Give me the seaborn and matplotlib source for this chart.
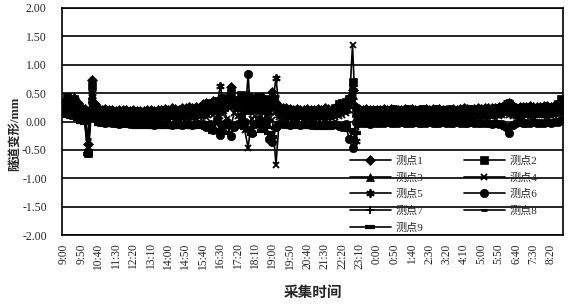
import numpy as np
import pandas as pd
import matplotlib
matplotlib.use("Agg")
import matplotlib.pyplot as plt
import seaborn as sns

# 10-min samples, 9:00 -> 8:50 next day (144 points)
tick_labels = ["9:00", "9:50", "10:40", "11:30", "12:20", "13:10", "14:00", "14:50",
               "15:40", "16:30", "17:20", "18:10", "19:00", "19:50", "20:40", "21:30",
               "22:20", "23:10", "0:00", "0:50", "1:40", "2:30", "3:20", "4:10",
               "5:00", "5:50", "6:40", "7:30", "8:20"]
names = ["测点1", "测点2", "测点3", "测点4", "测点5", "测点6", "测点7", "测点8", "测点9"]

s1 = [0.30, 0.36, 0.28, 0.42, 0.33, 0.26, 0.22, -0.40, 0.73, 0.30,
      0.22, 0.21, 0.22, 0.20, 0.21, 0.19, 0.20, 0.21, 0.20, 0.19,
      0.20, 0.19, 0.18, 0.19, 0.20, 0.21, 0.19, 0.20, 0.21, 0.22,
      0.21, 0.23, 0.22, 0.21, 0.24, 0.23, 0.25, 0.24, 0.26, 0.23,
      0.30, 0.32, 0.26, 0.36, 0.24, 0.40, 0.30, 0.28, 0.60, 0.36,
      0.30, 0.42, 0.28, 0.46, 0.38, 0.26, 0.32, 0.44, 0.36, 0.30,
      0.52, 0.32, 0.26, 0.23, 0.24, 0.22, 0.21, 0.22, 0.21, 0.20,
      0.22, 0.21, 0.20, 0.22, 0.21, 0.23, 0.22, 0.21, 0.24, 0.26,
      0.28, 0.30, 0.42, 0.56, 0.26, 0.22, 0.21, 0.22, 0.21, 0.20,
      0.20, 0.21, 0.22, 0.21, 0.22, 0.21, 0.20, 0.21, 0.22, 0.21,
      0.22, 0.21, 0.20, 0.21, 0.22, 0.21, 0.22, 0.21, 0.22, 0.21,
      0.20, 0.21, 0.22, 0.21, 0.22, 0.23, 0.22, 0.21, 0.22, 0.23,
      0.22, 0.23, 0.24, 0.23, 0.24, 0.25, 0.26, 0.30, 0.33, 0.28,
      0.24, 0.25, 0.26, 0.25, 0.27, 0.26, 0.25, 0.26, 0.27, 0.28,
      0.26, 0.27, 0.29, 0.31]
s2 = [0.34, 0.43, 0.30, 0.40, 0.27, 0.21, 0.16, -0.55, 0.62, 0.26,
      0.17, 0.16, 0.15, 0.16, 0.15, 0.14, 0.15, 0.16, 0.15, 0.14,
      0.15, 0.14, 0.15, 0.16, 0.15, 0.14, 0.16, 0.15, 0.16, 0.17,
      0.16, 0.17, 0.18, 0.17, 0.18, 0.19, 0.18, 0.20, 0.19, 0.20,
      0.26, 0.22, 0.32, 0.28, 0.36, 0.25, 0.42, 0.30, 0.50, 0.38,
      0.34, 0.46, 0.30, 0.28, 0.42, 0.35, 0.44, 0.30, 0.40, 0.26,
      0.36, 0.28, 0.22, 0.20, 0.19, 0.18, 0.19, 0.18, 0.17, 0.18,
      0.19, 0.18, 0.17, 0.19, 0.18, 0.20, 0.19, 0.18, 0.24, 0.30,
      0.32, 0.34, 0.40, 0.70, 0.20, 0.18, 0.17, 0.18, 0.17, 0.18,
      0.18, 0.17, 0.18, 0.17, 0.18, 0.17, 0.18, 0.17, 0.18, 0.17,
      0.18, 0.19, 0.18, 0.17, 0.18, 0.19, 0.18, 0.17, 0.18, 0.19,
      0.18, 0.17, 0.18, 0.19, 0.18, 0.17, 0.18, 0.19, 0.18, 0.19,
      0.20, 0.19, 0.20, 0.21, 0.20, 0.22, 0.21, 0.26, 0.30, 0.24,
      0.22, 0.21, 0.22, 0.23, 0.24, 0.22, 0.23, 0.24, 0.25, 0.23,
      0.24, 0.25, 0.30, 0.40]
s3 = [0.26, 0.32, 0.22, 0.30, 0.20, 0.15, 0.12, -0.48, 0.48, 0.20,
      0.12, 0.11, 0.10, 0.11, 0.10, 0.09, 0.10, 0.11, 0.10, 0.09,
      0.10, 0.09, 0.10, 0.11, 0.10, 0.09, 0.11, 0.10, 0.11, 0.12,
      0.11, 0.12, 0.11, 0.13, 0.12, 0.13, 0.14, 0.12, 0.13, 0.14,
      0.18, 0.15, 0.22, 0.20, 0.28, 0.18, 0.25, 0.36, 0.58, 0.30,
      0.25, 0.36, 0.20, 0.30, 0.22, 0.28, 0.36, 0.20, 0.26, 0.18,
      0.30, 0.20, 0.15, 0.13, 0.12, 0.13, 0.12, 0.11, 0.12, 0.11,
      0.12, 0.11, 0.12, 0.13, 0.12, 0.11, 0.12, 0.13, 0.15, 0.18,
      0.20, 0.22, 0.30, 0.46, 0.15, 0.13, 0.12, 0.13, 0.12, 0.13,
      0.12, 0.13, 0.12, 0.11, 0.12, 0.13, 0.12, 0.13, 0.12, 0.11,
      0.12, 0.13, 0.12, 0.13, 0.12, 0.11, 0.12, 0.13, 0.12, 0.13,
      0.12, 0.13, 0.14, 0.13, 0.12, 0.13, 0.14, 0.13, 0.14, 0.13,
      0.14, 0.13, 0.14, 0.15, 0.16, 0.17, 0.18, 0.22, 0.20, 0.15,
      0.15, 0.14, 0.15, 0.16, 0.15, 0.16, 0.15, 0.16, 0.17, 0.16,
      0.17, 0.16, 0.18, 0.20]
s4 = [0.20, 0.25, 0.18, 0.22, 0.15, 0.10, 0.08, -0.45, 0.30, 0.15,
      0.06, 0.05, 0.04, 0.05, 0.04, 0.03, 0.04, 0.05, 0.04, 0.03,
      0.04, 0.03, 0.04, 0.05, 0.04, 0.03, 0.05, 0.04, 0.05, 0.06,
      0.05, 0.06, 0.05, 0.07, 0.06, 0.07, 0.08, 0.06, 0.07, 0.08,
      0.10, 0.08, 0.15, 0.12, 0.20, 0.10, 0.18, 0.05, -0.10, 0.15,
      0.10, 0.05, -0.15, -0.46, 0.05, 0.10, 0.02, -0.05, 0.10, 0.05,
      0.02, -0.76, 0.08, 0.07, 0.06, 0.07, 0.06, 0.05, 0.06, 0.05,
      0.06, 0.05, 0.06, 0.07, 0.06, 0.05, 0.06, 0.07, 0.08, 0.10,
      0.12, 0.15, 0.20, 1.35, -0.10, 0.07, 0.06, 0.07, 0.06, 0.07,
      0.07, 0.06, 0.07, 0.08, 0.07, 0.06, 0.07, 0.08, 0.07, 0.06,
      0.07, 0.08, 0.07, 0.06, 0.07, 0.08, 0.07, 0.08, 0.07, 0.06,
      0.07, 0.08, 0.07, 0.08, 0.09, 0.08, 0.07, 0.08, 0.09, 0.08,
      0.09, 0.08, 0.09, 0.10, 0.09, 0.10, 0.11, 0.14, 0.12, 0.10,
      0.09, 0.10, 0.11, 0.10, 0.11, 0.10, 0.11, 0.12, 0.11, 0.10,
      0.11, 0.12, 0.13, 0.15]
s5 = [0.28, 0.38, 0.25, 0.35, 0.22, 0.18, 0.15, -0.52, 0.50, 0.22,
      0.16, 0.15, 0.14, 0.15, 0.14, 0.13, 0.14, 0.15, 0.14, 0.13,
      0.14, 0.13, 0.14, 0.15, 0.14, 0.15, 0.14, 0.15, 0.16, 0.15,
      0.16, 0.15, 0.16, 0.17, 0.16, 0.17, 0.18, 0.17, 0.18, 0.17,
      0.22, 0.20, 0.28, 0.25, 0.25, 0.63, 0.30, 0.25, 0.35, 0.28,
      0.25, 0.30, 0.22, 0.20, 0.28, 0.25, 0.20, 0.22, 0.30, 0.35,
      0.30, 0.76, 0.18, 0.16, 0.15, 0.16, 0.15, 0.14, 0.15, 0.14,
      0.15, 0.14, 0.15, 0.16, 0.15, 0.14, 0.15, 0.16, 0.18, 0.20,
      0.22, 0.25, 0.35, 0.60, -0.35, 0.15, 0.14, 0.15, 0.14, 0.15,
      0.15, 0.14, 0.15, 0.14, 0.15, 0.16, 0.15, 0.14, 0.15, 0.16,
      0.15, 0.16, 0.15, 0.14, 0.15, 0.16, 0.15, 0.16, 0.15, 0.14,
      0.15, 0.16, 0.15, 0.16, 0.17, 0.16, 0.15, 0.16, 0.17, 0.16,
      0.17, 0.16, 0.17, 0.18, 0.19, 0.20, 0.21, 0.26, 0.24, 0.18,
      0.18, 0.17, 0.18, 0.19, 0.18, 0.19, 0.18, 0.19, 0.20, 0.19,
      0.20, 0.19, 0.21, 0.24]
s6 = [0.15, 0.20, 0.12, 0.18, 0.10, 0.05, 0.02, -0.56, 0.35, 0.10,
      0.00, -0.01, -0.02, -0.01, -0.03, -0.02, -0.04, -0.03, -0.02, -0.04,
      -0.03, -0.05, -0.04, -0.03, -0.05, -0.04, -0.06, -0.05, -0.04, -0.05,
      -0.04, -0.06, -0.05, -0.04, -0.06, -0.05, -0.04, -0.06, -0.05, -0.04,
      -0.05, -0.10, -0.05, -0.15, 0.05, -0.24, -0.05, 0.00, -0.25, -0.10,
      -0.05, 0.10, 0.00, 0.83, -0.20, -0.05, 0.05, -0.10, 0.00, -0.30,
      -0.36, -0.10, -0.05, -0.04, -0.05, -0.06, -0.05, -0.04, -0.06, -0.05,
      -0.04, -0.06, -0.05, -0.07, -0.06, -0.05, -0.07, -0.06, -0.05, -0.08,
      -0.10, -0.05, -0.30, -0.47, 0.00, -0.03, -0.02, -0.03, -0.04, -0.02,
      -0.02, -0.03, -0.02, -0.01, -0.02, -0.03, -0.02, -0.01, -0.02, -0.03,
      -0.02, -0.01, -0.02, -0.03, -0.02, -0.01, -0.02, -0.03, -0.02, -0.01,
      -0.02, -0.03, -0.02, -0.01, -0.02, -0.03, -0.02, -0.01, -0.02, -0.03,
      -0.02, -0.03, -0.02, -0.04, -0.03, -0.05, -0.04, -0.10, -0.20, -0.06,
      -0.02, -0.01, -0.02, -0.03, -0.02, -0.01, -0.02, -0.03, -0.02, -0.01,
      -0.02, -0.01, 0.00, 0.02]
s7 = [0.22, 0.28, 0.20, 0.26, 0.18, 0.12, 0.10, -0.42, 0.40, 0.18,
      0.09, 0.08, 0.07, 0.08, 0.07, 0.06, 0.07, 0.08, 0.07, 0.06,
      0.07, 0.06, 0.07, 0.08, 0.07, 0.06, 0.08, 0.07, 0.08, 0.09,
      0.08, 0.09, 0.08, 0.10, 0.09, 0.10, 0.11, 0.09, 0.10, 0.11,
      0.14, 0.12, 0.18, 0.16, 0.24, 0.14, 0.20, 0.30, 0.40, 0.22,
      0.18, 0.28, 0.15, 0.24, 0.18, 0.20, 0.28, 0.15, 0.22, 0.14,
      0.25, 0.30, 0.12, 0.10, 0.09, 0.10, 0.09, 0.08, 0.09, 0.08,
      0.09, 0.08, 0.09, 0.10, 0.09, 0.08, 0.09, 0.10, 0.12, 0.14,
      0.16, 0.18, 0.24, 0.40, 0.10, 0.09, 0.10, 0.09, 0.10, 0.09,
      0.10, 0.09, 0.10, 0.11, 0.10, 0.09, 0.10, 0.11, 0.10, 0.09,
      0.10, 0.11, 0.10, 0.09, 0.10, 0.11, 0.10, 0.11, 0.10, 0.09,
      0.10, 0.11, 0.10, 0.11, 0.12, 0.11, 0.10, 0.11, 0.12, 0.11,
      0.12, 0.11, 0.12, 0.13, 0.12, 0.13, 0.14, 0.18, 0.20, 0.13,
      0.12, 0.13, 0.14, 0.13, 0.14, 0.13, 0.14, 0.15, 0.14, 0.13,
      0.14, 0.15, 0.16, 0.18]
s8 = [0.32, 0.40, 0.30, 0.38, 0.30, 0.24, 0.20, -0.30, 0.55, 0.28,
      0.24, 0.23, 0.24, 0.23, 0.22, 0.23, 0.22, 0.23, 0.24, 0.23,
      0.22, 0.23, 0.22, 0.21, 0.22, 0.23, 0.24, 0.23, 0.24, 0.25,
      0.24, 0.25, 0.26, 0.25, 0.26, 0.27, 0.26, 0.27, 0.28, 0.27,
      0.30, 0.34, 0.30, 0.38, 0.32, 0.42, 0.35, 0.40, 0.45, 0.38,
      0.36, 0.40, 0.34, 0.38, 0.42, 0.30, 0.36, 0.40, 0.38, 0.32,
      0.40, 0.45, 0.28, 0.26, 0.25, 0.24, 0.25, 0.24, 0.23, 0.24,
      0.25, 0.24, 0.23, 0.24, 0.25, 0.24, 0.23, 0.24, 0.26, 0.28,
      0.30, 0.34, 0.38, 0.48, 0.26, 0.25, 0.26, 0.25, 0.26, 0.25,
      0.26, 0.25, 0.26, 0.25, 0.26, 0.27, 0.26, 0.25, 0.26, 0.27,
      0.26, 0.25, 0.26, 0.27, 0.26, 0.25, 0.26, 0.27, 0.26, 0.25,
      0.26, 0.27, 0.26, 0.25, 0.26, 0.27, 0.28, 0.27, 0.26, 0.27,
      0.26, 0.27, 0.28, 0.27, 0.28, 0.29, 0.30, 0.36, 0.38, 0.30,
      0.28, 0.29, 0.28, 0.29, 0.30, 0.29, 0.28, 0.29, 0.30, 0.31,
      0.30, 0.31, 0.33, 0.36]
s9 = [0.10, 0.14, 0.08, 0.12, 0.05, 0.00, -0.02, -0.58, 0.20, 0.02,
      -0.04, -0.05, -0.06, -0.05, -0.07, -0.06, -0.08, -0.07, -0.06, -0.08,
      -0.07, -0.09, -0.08, -0.07, -0.09, -0.08, -0.10, -0.09, -0.08, -0.09,
      -0.08, -0.10, -0.09, -0.08, -0.10, -0.09, -0.08, -0.10, -0.09, -0.08,
      -0.06, -0.12, -0.08, -0.18, -0.02, -0.15, -0.08, -0.20, -0.10, -0.05,
      -0.08, -0.02, -0.12, -0.15, -0.22, -0.08, -0.04, -0.16, -0.10, -0.20,
      -0.28, -0.12, -0.08, -0.07, -0.08, -0.09, -0.08, -0.07, -0.09, -0.08,
      -0.09, -0.10, -0.09, -0.11, -0.10, -0.09, -0.11, -0.10, -0.09, -0.10,
      -0.12, -0.10, -0.15, -0.30, -0.20, -0.06, -0.05, -0.06, -0.05, -0.06,
      -0.05, -0.06, -0.05, -0.04, -0.05, -0.06, -0.05, -0.04, -0.05, -0.06,
      -0.05, -0.04, -0.05, -0.06, -0.05, -0.04, -0.05, -0.06, -0.05, -0.04,
      -0.05, -0.06, -0.05, -0.04, -0.05, -0.06, -0.05, -0.04, -0.05, -0.06,
      -0.05, -0.06, -0.05, -0.07, -0.06, -0.08, -0.07, -0.12, -0.10, -0.06,
      -0.05, -0.04, -0.05, -0.06, -0.05, -0.04, -0.05, -0.06, -0.05, -0.04,
      -0.05, -0.04, -0.03, -0.01]

series = [s1, s2, s3, s4, s5, s6, s7, s8, s9]
# marker, size, edge width
styles = [("D", 5, 0.5), ("s", 5.5, 0.5), ("^", 6, 0.5), ("x", 5, 1.3),
          ((6, 2, 0), 6, 1.3), ("o", 6, 0.5), ("+", 6, 1.3), ("_", 4, 2.0),
          ("_", 7, 3.0)]

sns.set_style("white")
plt.rcParams["font.family"] = ["Liberation Serif", "Noto Sans CJK SC"]
plt.rcParams["axes.unicode_minus"] = False

fig, ax = plt.subplots(figsize=(5.72, 3.05), dpi=100)
fig.subplots_adjust(left=62 / 572, right=563 / 572, top=1 - 8 / 305, bottom=1 - 235 / 305)

for name, vals, (mk, ms, mew) in zip(names, series, styles):
    df = pd.DataFrame({"t": np.arange(len(vals)), "v": vals})
    sns.lineplot(data=df, x="t", y="v", ax=ax, color="black", linewidth=1.2,
                 marker=mk, markersize=ms, markeredgewidth=mew,
                 markerfacecolor="black", markeredgecolor="black", label=name)

ax.set_xlim(-0.5, 143.5)
ax.set_ylim(-2, 2)
ax.set_yticks(np.arange(-2, 2.01, 0.5))
ax.set_yticklabels([f"{v:.2f}" for v in np.arange(-2, 2.01, 0.5)], fontsize=8.5)
ax.set_xticks(np.arange(0, 144, 5))
ax.set_xticklabels(tick_labels, rotation=90, fontsize=8.3)
ax.tick_params(axis="both", length=0)
ax.tick_params(axis="y", pad=11)
ax.tick_params(axis="x", pad=6)
ax.yaxis.grid(True, color="black", linewidth=1.2)
ax.set_axisbelow(True)
for sp in ax.spines.values():
    sp.set_color("black")
    sp.set_linewidth(1.2)

ax.set_xlabel("采集时间", fontsize=10.5, fontweight="bold", labelpad=12)
ax.set_ylabel("隧道变形/mm", fontsize=9, fontweight="bold")
ax.yaxis.set_label_coords(-0.082, 0.445)

# row-major legend order: 1 2 / 3 4 / 5 6 / 7 8 / 9
handles, labels = ax.get_legend_handles_labels()
order = [0, 2, 4, 6, 8, 1, 3, 5, 7]
ax.legend([handles[i] for i in order], [labels[i] for i in order],
          ncol=2, loc="lower left", bbox_to_anchor=(0.57, 0.0), frameon=False,
          fontsize=8, handlelength=3.7, handletextpad=0.45, columnspacing=3.6,
          labelspacing=0.6, borderpad=0.2, borderaxespad=0.0)

fig.savefig("out.png", dpi=100)
